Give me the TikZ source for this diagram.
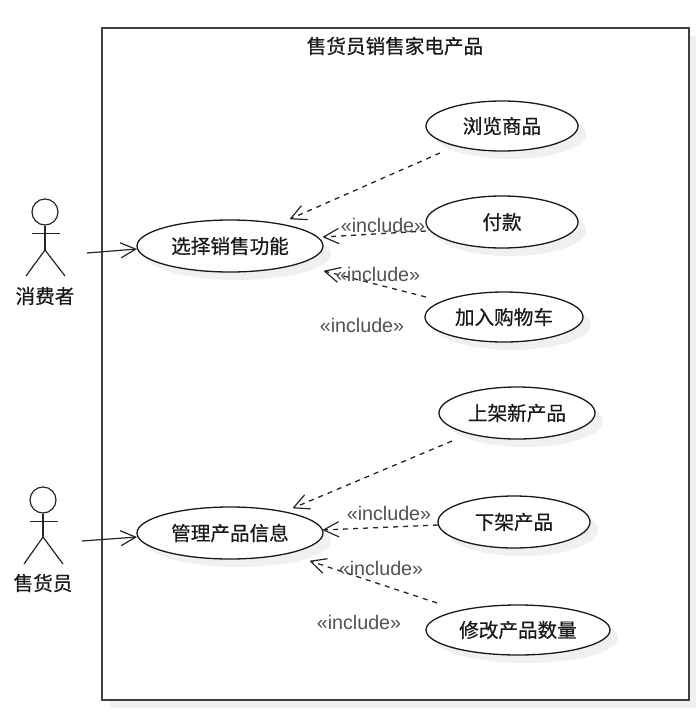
\documentclass[tikz,border=0pt]{standalone}
\usepackage{fontspec}
\setmainfont[FakeBold=0.5]{Noto Sans CJK SC}
\newfontfamily\latinf{Liberation Sans}
\usetikzlibrary{arrows.meta,shapes.geometric,shadows,backgrounds}
\newcommand{\cjkbold}{\addfontfeature{FakeBold=0.5}}
\tikzset{
  x=1pt,y=-1pt,
  softshadow/.style={general shadow={shadow xshift=8pt,shadow yshift=-8pt,fill=black!6}},
  usecase/.style={ellipse,draw=black!90,line width=1.3pt,fill=white,softshadow,inner sep=0pt,
    font=\fontsize{19.6}{21}\selectfont,text=black!90},
  sysbox/.style={rectangle,draw=black!75,line width=1.5pt,fill=white,inner sep=0pt,softshadow},
  titletext/.style={font=\fontsize{19.6}{21}\selectfont,text=black!90},
  actorhead/.style={circle,draw=black!85,line width=1.2pt,fill=white,inner sep=0pt,minimum size=26pt},
  limb/.style={draw=black!85,line width=1.2pt},
  actorname/.style={font=\fontsize{19.6}{21}\selectfont,text=black!90},
  assoc/.style={draw=black!85,line width=1.2pt,-{Straight Barb[length=15pt,width=15pt,line width=1.2pt]}},
  incl/.style={draw=black!85,line width=1.3pt,dash pattern=on 5pt off 5pt,-{Straight Barb[length=15pt,width=15pt,line width=1.2pt,round]}},
  inclabel/.style={font=\latinf\fontsize{19.7}{21}\selectfont,text=black!68,inner sep=0pt},
}
\begin{document}
\begin{tikzpicture}
\useasboundingbox (0,0) rectangle (696,713);
\fill[white] (0,0) rectangle (696,713);
% system boundary
\node[sysbox,minimum width=587pt,minimum height=672pt] (box) at (395.5,364) {};
\node[titletext] (title) at (395,46) {售货员销售家电产品};
% use cases
\node[usecase,minimum width=152pt,minimum height=50pt] (browse) at (502,126) {浏览商品};
\node[usecase,minimum width=152pt,minimum height=52pt] (pay) at (502,222) {付款};
\node[usecase,minimum width=158pt,minimum height=50pt] (cart) at (504,317) {加入购物车};
\node[usecase,minimum width=186pt,minimum height=52pt] (sell) at (230,246) {选择销售功能};
\node[usecase,minimum width=156pt,minimum height=52pt] (up) at (517,413) {上架新产品};
\node[usecase,minimum width=152pt,minimum height=52pt] (down) at (514,522) {下架产品};
\node[usecase,minimum width=184pt,minimum height=50pt] (qty) at (518,630) {修改产品数量};
\node[usecase,minimum width=186pt,minimum height=52pt] (manage) at (230,533) {管理产品信息};
% actor 1
\node[actorhead] (a1) at (45,212) {};
\coordinate (a1hip) at (45,250);
\draw[limb] (a1.south) -- (a1hip);
\draw[limb] (31.5,233.5) -- (59.5,233.5);
\draw[limb] (26,276) -- (a1hip) -- (65,276);
\node[actorname] (a1n) at (45,296) {消费者};
% actor 2
\node[actorhead] (a2) at (43,500) {};
\coordinate (a2hip) at (43,537);
\draw[limb] (a2.south) -- (a2hip);
\draw[limb] (29.5,521.5) -- (57.5,521.5);
\draw[limb] (24,564) -- (a2hip) -- (63,564);
\node[actorname] (a2n) at (43,583) {售货员};
% connector ends
\coordinate (s1) at (87,253); \coordinate (e1) at (137,249);
\coordinate (s2) at (82,541); \coordinate (e2) at (137,537);
\coordinate (s3) at (440,153); \coordinate (e3) at (290,219);
\coordinate (s4) at (426,231); \coordinate (e4) at (323,237);
\coordinate (s5) at (426,297); \coordinate (e5) at (324,271);
\coordinate (s6) at (452,441); \coordinate (e6) at (293,508);
\coordinate (s7) at (438,525); \coordinate (e7) at (323,530);
\coordinate (s8) at (437,603); \coordinate (e8) at (310,561);
\draw[assoc] (s1) -- (e1);
\draw[assoc] (s2) -- (e2);
\draw[incl] (s3) -- (e3);
\draw[incl] (s4) -- (e4);
\draw[incl] (s5) -- (e5);
\draw[incl] (s6) -- (e6);
\draw[incl] (s7) -- (e7);
\draw[incl] (s8) -- (e8);
% labels
\node[inclabel] (l1) at (383,225) {«include»};
\node[inclabel] (l2) at (378,274) {«include»};
\node[inclabel] (l3) at (362,325) {«include»};
\node[inclabel] (l4) at (389,513) {«include»};
\node[inclabel] (l5) at (381,568) {«include»};
\node[inclabel] (l6) at (359,622) {«include»};
\end{tikzpicture}
\end{document}
